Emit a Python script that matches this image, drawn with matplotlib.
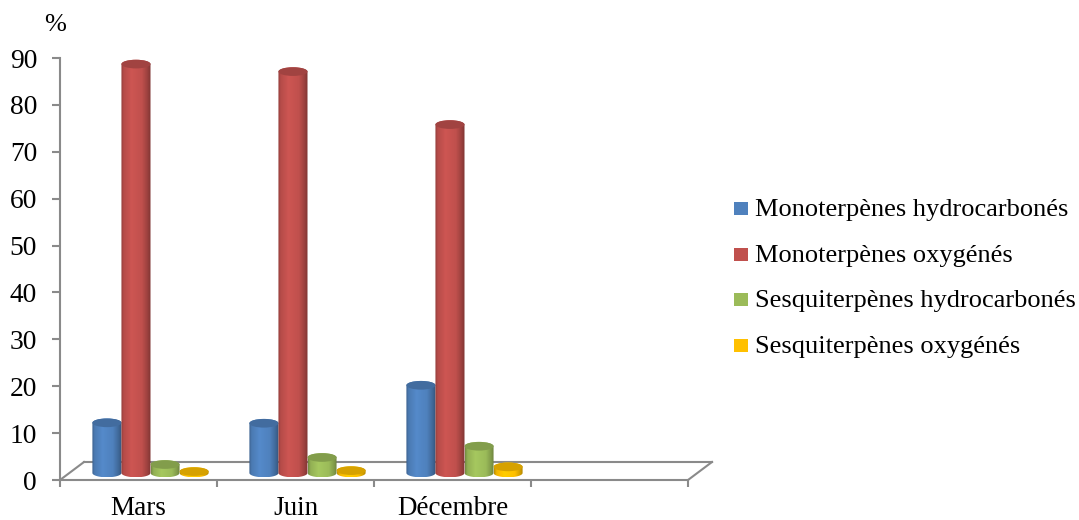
import numpy as np
import matplotlib
matplotlib.use("Agg")
import matplotlib.pyplot as plt
from matplotlib.patches import Ellipse, PathPatch, Rectangle
from matplotlib.path import Path
from matplotlib.colors import to_rgb
from matplotlib.transforms import blended_transform_factory

# ---- data ----
months = ["Mars", "Juin", "Décembre"]
series_names = ["Monoterpènes hydrocarbonés", "Monoterpènes oxygénés",
                "Sesquiterpènes hydrocarbonés", "Sesquiterpènes oxygénés"]
mono_hydro = [10.7, 10.6, 18.7]
mono_oxy = [87.2, 85.6, 74.3]
sesq_hydro = [1.8, 3.3, 5.7]
sesq_oxy = [0.3, 0.5, 1.3]
colors = ["#4F81BD", "#C0504D", "#9BBB59", "#FFC000"]
y_ticks = list(range(0, 91, 10))
n_slots = 4  # the category axis keeps one empty slot on the right

plt.rcParams['font.family'] = ['Liberation Serif', 'DejaVu Serif']

W, H = 1079, 520
fig = plt.figure(figsize=(W / 100, H / 100), dpi=100)

cat_px = 157.0
xmin, xmax = -0.5, n_slots - 0.5 + 0.25
ax_h_px = 480 - 58
ax = fig.add_axes([60 / W, (H - 480) / H, cat_px * (xmax - xmin) / W, ax_h_px / H])
ax.set_facecolor('none')

grey = '#8a8a8a'
# floor depth (front -> back) in data units
dx_full = 24 / cat_px
dy_full = 18 / (ax_h_px / 90)
dx_mid = dx_full / 2
base = 1.5           # bars stand in the middle of the floor
bar_w = 0.185
ell_h = 1.85         # height of the cylinder end caps in data units


def cylinder(xc, w, y0, y1, color, z):
    rgb = np.array(to_rgb(color))
    th = np.linspace(np.pi, 2 * np.pi, 48)
    bottom = np.column_stack([xc + (w / 2) * np.cos(th), y0 + (ell_h / 2) * np.sin(th)])
    th2 = np.linspace(0, np.pi, 48)
    top = np.column_stack([xc + (w / 2) * np.cos(th2), y1 + (ell_h / 2) * np.sin(th2)])
    verts = np.vstack([bottom, top, bottom[:1]])
    codes = [Path.MOVETO] + [Path.LINETO] * (len(verts) - 2) + [Path.CLOSEPOLY]
    body = PathPatch(Path(verts, codes), facecolor='none', edgecolor='none')
    ax.add_patch(body)
    t = np.linspace(0, 1, 80)
    f = np.interp(t, [0, .08, .35, .7, .88, 1], [.74, .94, 1.07, 1.0, .82, .66])
    img = np.clip(rgb[None, :] * f[:, None], 0, 1)[None, :, :]
    im = ax.imshow(img, extent=(xc - w / 2, xc + w / 2, y0 - ell_h / 2, y1 + ell_h / 2),
                   aspect='auto', zorder=z, interpolation='bilinear')
    im.set_clip_path(body)
    cap = Ellipse((xc, y1), w, ell_h, facecolor=np.clip(rgb * 0.84, 0, 1),
                  edgecolor='none', zorder=z + 0.1)
    ax.add_patch(cap)


series = [mono_hydro, mono_oxy, sesq_hydro, sesq_oxy]
for i in range(len(months)):
    for j, vals in enumerate(series):
        xc = i + (j - 1.5) * bar_w + dx_mid
        cylinder(xc, bar_w, base, base + vals[i], colors[j], z=3 + j * 0.2)

# floor outline
lw = 1.5
ax.plot([-0.5 + dx_full, n_slots - 0.5 + dx_full], [dy_full, dy_full], color=grey, lw=lw, zorder=1, clip_on=False)
ax.plot([-0.5, -0.5 + dx_full], [0, dy_full], color=grey, lw=lw, zorder=1, clip_on=False)
ax.plot([n_slots - 0.5, n_slots - 0.5 + dx_full], [0, dy_full], color=grey, lw=lw, zorder=1, clip_on=False)

ax.set_xlim(xmin, xmax)
ax.set_ylim(0, 90)

for s in ['top', 'right']:
    ax.spines[s].set_visible(False)
for s in ['left', 'bottom']:
    ax.spines[s].set_color(grey)
    ax.spines[s].set_linewidth(lw)
ax.spines['left'].set_bounds(0, 90)
ax.spines['bottom'].set_bounds(-0.5, n_slots - 0.5)

ax.set_yticks(y_ticks)
ax.set_yticklabels([str(v) for v in y_ticks])
ax.tick_params(axis='y', direction='out', length=5.5, width=lw, color=grey,
               labelsize=19.8, pad=11, labelcolor='black')
ax.set_xticks([])
ax.set_xticks([k - 0.5 for k in range(n_slots + 1)], minor=True)
ax.tick_params(axis='x', which='minor', direction='out', length=5, width=lw, color=grey)

trans = blended_transform_factory(ax.transData, fig.transFigure)
for i, m in enumerate(months):
    ax.text(i, 5 / H, m, transform=trans, ha='center', va='baseline', fontsize=19.5)

fig.text(55 / W, 1 - 25 / H, "%", ha='center', va='center', fontsize=19)

# legend
for k, (name, c) in enumerate(zip(series_names, colors)):
    yb = 216 + k * 45.7
    fig.add_artist(Rectangle((734 / W, 1 - (yb - 1) / H), 14 / W, 13 / H,
                             transform=fig.transFigure, facecolor=c, edgecolor='none'))
    fig.text(755 / W, 1 - yb / H, name, ha='left', va='baseline', fontsize=19)

fig.savefig('out.png', dpi=100)
